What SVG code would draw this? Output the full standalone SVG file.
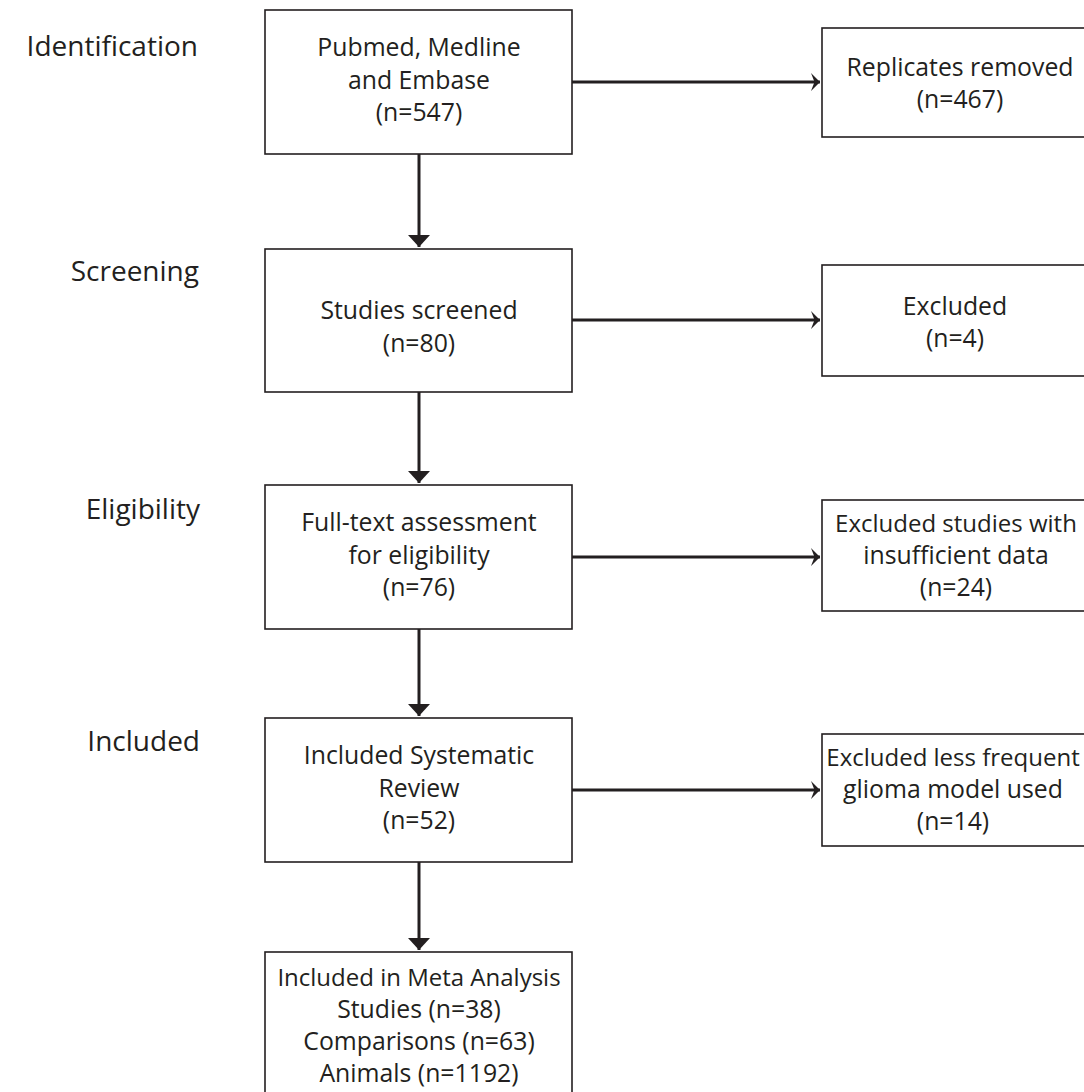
<svg xmlns="http://www.w3.org/2000/svg" width="1084" height="1092" viewBox="0 0 1084 1092">
<style>
.box{fill:#fff;stroke:#231f20;stroke-width:1.6}
.t{font-family:"Open Sans","Noto Sans","Liberation Sans",sans-serif;font-size:24.8px;fill:#231f20;text-anchor:middle}
.s{font-size:24px}
.lab{font-family:"Open Sans","Noto Sans","Liberation Sans",sans-serif;font-size:28px;fill:#231f20;text-anchor:end}
.c{stroke:#231f20;stroke-width:3;fill:none}
</style>
<defs>
<marker id="ad" markerUnits="userSpaceOnUse" markerWidth="14" markerHeight="24" refX="12" refY="11" orient="auto" viewBox="0 0 14 22">
<path d="M0,0 L12,11 L0,22 Z" fill="#231f20"/>
</marker>
<marker id="ar" markerUnits="userSpaceOnUse" markerWidth="12" markerHeight="20" refX="10" refY="10" orient="auto" viewBox="0 0 12 20">
<path d="M1,1 L10,10 L1,19 L4.5,10 Z" fill="#231f20"/>
</marker>
</defs>
<rect width="1084" height="1092" fill="#fff"/>
<g id="labels">
<text class="lab" x="198" y="56">Identification</text>
<text class="lab" x="199" y="281">Screening</text>
<text class="lab" x="200" y="519">Eligibility</text>
<text class="lab" x="200" y="751">Included</text>
</g>
<g id="connectors">
<line class="c" x1="419" y1="154" x2="419" y2="247" marker-end="url(#ad)"/>
<line class="c" x1="419" y1="392" x2="419" y2="483" marker-end="url(#ad)"/>
<line class="c" x1="419" y1="629" x2="419" y2="716" marker-end="url(#ad)"/>
<line class="c" x1="419" y1="862" x2="419" y2="950" marker-end="url(#ad)"/>
<line class="c" x1="572" y1="82" x2="820" y2="82" marker-end="url(#ar)"/>
<line class="c" x1="572" y1="320" x2="820" y2="320" marker-end="url(#ar)"/>
<line class="c" x1="572" y1="557" x2="820" y2="557" marker-end="url(#ar)"/>
<line class="c" x1="572" y1="790" x2="820" y2="790" marker-end="url(#ar)"/>
</g>
<g id="n1"><rect class="box" x="265" y="10" width="307" height="144"/>
<text class="t" x="419" y="56">Pubmed, Medline</text><text class="t" x="419" y="89">and Embase</text><text class="t" x="419" y="121">(n=547)</text></g>
<g id="n2"><rect class="box" x="265" y="249" width="307" height="143"/>
<text class="t" x="419" y="319">Studies screened</text><text class="t" x="419" y="352">(n=80)</text></g>
<g id="n3"><rect class="box" x="265" y="485" width="307" height="144"/>
<text class="t" x="419" y="531">Full-text assessment</text><text class="t" x="419" y="564">for eligibility</text><text class="t" x="419" y="596">(n=76)</text></g>
<g id="n4"><rect class="box" x="265" y="718" width="307" height="144"/>
<text class="t" x="419" y="764">Included Systematic</text><text class="t" x="419" y="797">Review</text><text class="t" x="419" y="829">(n=52)</text></g>
<g id="n5"><rect class="box" x="265" y="952" width="307" height="150"/>
<text class="t s" x="419" y="986">Included in Meta Analysis</text><text class="t" x="419" y="1018">Studies (n=38)</text><text class="t" x="419" y="1050">Comparisons (n=63)</text><text class="t" x="419" y="1082">Animals (n=1192)</text></g>
<g id="r1"><rect class="box" x="822" y="28" width="280" height="109"/>
<text class="t" x="960" y="76">Replicates removed</text><text class="t" x="960" y="108">(n=467)</text></g>
<g id="r2"><rect class="box" x="822" y="265" width="280" height="111"/>
<text class="t" x="955" y="315">Excluded</text><text class="t" x="955" y="347">(n=4)</text></g>
<g id="r3"><rect class="box" x="822" y="500" width="280" height="111"/>
<text class="t s" x="956" y="532">Excluded studies with</text><text class="t" x="956" y="564">insufficient data</text><text class="t" x="956" y="596">(n=24)</text></g>
<g id="r4"><rect class="box" x="822" y="734" width="280" height="112"/>
<text class="t s" x="953" y="766">Excluded less frequent</text><text class="t" x="953" y="798">glioma model used</text><text class="t" x="953" y="830">(n=14)</text></g>
</svg>
